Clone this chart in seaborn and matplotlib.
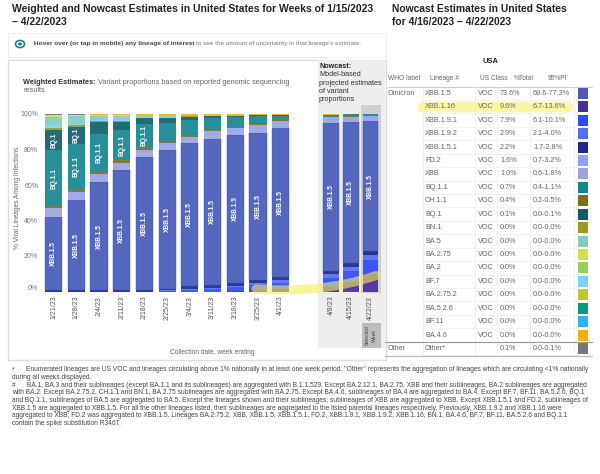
import numpy as np
import pandas as pd
import seaborn as sns
import matplotlib.pyplot as plt
from matplotlib.patches import Rectangle, FancyBboxPatch, Circle
from matplotlib.path import Path
from matplotlib.patches import PathPatch
from matplotlib.transforms import IdentityTransform

weeks = ["1/21/23", "1/28/23", "2/4/23", "2/11/23", "2/18/23", "2/25/23", "3/4/23",
         "3/11/23", "3/18/23", "3/25/23", "4/1/23"]
now_weeks = ["4/8/23", "4/15/23", "4/22/23"]

# percent per lineage, stacked from the bottom; last 3 values are the nowcast weeks
xbb116 = [0, 0, 0, 0, 0, 0, 0, 0, 0.2, 0.6, 1.2, 2.8, 5.6, 9.6]
xbb191 = [0, 0, 0, 0, 0, 0.4, 1.1, 1.3, 2.1, 3.0, 3.6, 5.0, 6.0, 7.9]
xbb192 = [0, 0, 0, 0, 0, 0.2, 0.4, 0.4, 0.9, 1.1, 1.4, 2.0, 2.4, 2.9]
xbb151 = [0.6, 0.6, 0.8, 0.8, 0.9, 1.0, 1.7, 1.9, 1.5, 1.9, 1.9, 1.9, 1.9, 2.2]
xbb15 = [41.2, 50.9, 60.7, 67.6, 75.1, 78.1, 80.6, 82.4, 83.5, 82.9, 84.0, 83.4, 79.6, 73.6]
xbb = [5.0, 3.6, 2.8, 2.8, 2.4, 2.4, 2.2, 2.8, 1.8, 2.0, 2.4, 1.3, 1.2, 1.0]
fd2 = [0.2, 1.1, 1.9, 1.4, 1.6, 1.4, 1.2, 1.8, 2.0, 2.1, 1.7, 1.7, 1.8, 1.6]
ch11 = [1.2, 1.3, 1.1, 1.4, 1.0, 0.9, 0.8, 0.6, 0.7, 0.8, 0.6, 0.4, 0.4, 0.4]
bq11 = [31.3, 25.5, 21.4, 17.0, 13.4, 10.7, 8.6, 6.4, 5.4, 4.5, 2.2, 1.1, 0.9, 0.7]
bq1 = [11.7, 9.9, 7.0, 4.7, 3.2, 2.5, 1.9, 1.3, 0.8, 0.3, 0.2, 0.1, 0.1, 0.1]
bn1 = [1.1, 0.9, 0.4, 0.4, 0.3, 0.3, 0.2, 0.1, 0.1, 0.1, 0.1, 0, 0, 0]
bf7 = [1.4, 0.8, 0.3, 0.3, 0.2, 0.2, 0.1, 0.1, 0.1, 0, 0, 0, 0, 0]
ba5 = [4.6, 4.0, 2.6, 2.6, 1.2, 1.2, 0.6, 0.3, 0.3, 0.2, 0.2, 0, 0, 0]
ba275 = [0.9, 0.6, 0.4, 0.4, 0.2, 0.2, 0.1, 0.1, 0.1, 0.1, 0.1, 0, 0, 0]
ba46 = [0.5, 0.5, 0.4, 0.4, 0.3, 0.3, 0.3, 0.3, 0.3, 0.2, 0.2, 0.2, 0.1, 0.3]
other = [0.5, 0.3, 0.2, 0.2, 0.2, 0.2, 0.2, 0.2, 0.2, 0.2, 0.2, 0.1, 0, 0.1]

stack_names = ["XBB.1.16", "XBB.1.9.1", "XBB.1.9.2", "XBB.1.5.1", "XBB.1.5", "XBB", "FD.2", "CH.1.1",
               "BQ.1.1", "BQ.1", "BN.1", "BF.7", "BA.5", "BA.2.75", "BA.4.6", "Other"]
stack_vals = [xbb116, xbb191, xbb192, xbb151, xbb15, xbb, fd2, ch11,
              bq11, bq1, bn1, bf7, ba5, ba275, ba46, other]

# table
t_lineage = ["XBB.1.5", "XBB.1.16", "XBB.1.9.1", "XBB.1.9.2", "XBB.1.5.1", "FD.2", "XBB", "BQ.1.1", "CH.1.1",
             "BQ.1", "BN.1", "BA.5", "BA.2.75", "BA.2", "BF.7", "BA.2.75.2", "BA.5.2.6", "BF.11", "BA.4.6", "Other*"]
t_class = ["VOC"] * 19 + [""]
t_total = ["73.6%", "9.6%", "7.9%", "2.9%", "2.2%", "1.6%", "1.0%", "0.7%", "0.4%", "0.1%"] + ["0.0%"] * 9 + ["0.1%"]
t_pi = ["69.6-77.3%", "6.7-13.6%", "6.1-10.1%", "2.1-4.0%", "1.7-2.8%", "0.7-3.2%", "0.6-1.8%", "0.4-1.1%",
        "0.2-0.5%", "0.0-0.1%"] + ["0.0-0.0%"] * 9 + ["0.0-0.1%"]
t_colors = ["#4A5CB8", "#4B2C9E", "#2E4BFF", "#5270F5", "#1E2A85", "#8FA2FB", "#9CA5DC", "#138690", "#7B7020",
            "#0F5F69", "#9A9A22", "#80CCC0", "#CFE04E", "#9CCB60", "#7FD0FF", "#BCC832", "#0F9585", "#2AB5F5",
            "#FFAB0F", "#777777"]
lineage_color = dict(zip(t_lineage, t_colors))
lineage_color["Other"] = "#777777"
lineage_color["XBB.1.5"] = "#5566BE"

notes = [
    "during all weeks displayed.",
    "with BA.2. Except BA.2.75.2, CH.1.1 and BN.1, BA.2.75 sublineages are aggregated with BA.2.75. Except BA.4.6, sublineages of BA.4 are aggregated to BA.4. Except BF.7, BF.11, BA.5.2.6, BQ.1",
    "and BQ.1.1, sublineages of BA.5 are aggregated to BA.5. Except the lineages shown and their sublineages, sublineages of XBB are aggregated to XBB. Except XBB.1.5.1 and FD.2, sublineages of",
    "XBB.1.5 are aggregated to XBB.1.5. For all the other lineages listed, their sublineages are aggregated to the listed parental lineages respectively. Previously, XBB.1.9.2 and XBB.1.16 were",
    "aggregated to XBB; FD.2 was aggregated to XBB.1.5. Lineages BA.2.75.2, XBB, XBB.1.5, XBB.1.5.1, FD.2, XBB.1.9.1, XBB.1.9.2, XBB.1.16, BN.1, BA.4.6, BF.7, BF.11, BA.5.2.6 and BQ.1.1",
    "contain the spike substitution R346T.",
]

sns.set_theme(style="white")
plt.rcParams["font.family"] = ["Liberation Sans", "DejaVu Sans"]

W, H = 600, 474
fig = plt.figure(figsize=(W / 100, H / 100), dpi=100)


def fx(x):
    return x / W


def fy(y):
    return 1 - y / H


def txt(x, y, s, size=5.2, color="#666666", weight="normal", ha="left", va="center", **kw):
    return fig.text(fx(x), fy(y), s, fontsize=size, color=color, fontweight=weight, ha=ha, va=va, **kw)


def rect(x0, y0, x1, y1, z=-1, **kw):
    r = Rectangle((fx(x0), fy(y1)), fx(x1 - x0), (y1 - y0) / H, transform=fig.transFigure, zorder=z, **kw)
    fig.add_artist(r)
    return r


def hline(x0, x1, y, color="#dddddd", lw=0.7, z=-1):
    fig.add_artist(plt.Line2D([fx(x0), fx(x1)], [fy(y), fy(y)], color=color, lw=lw, zorder=z))


def vline(x, y0, y1, color="#eeeeee", lw=0.6, z=-1):
    fig.add_artist(plt.Line2D([fx(x), fx(x)], [fy(y0), fy(y1)], color=color, lw=lw, zorder=z))


def after(first, s, **kw):
    # regular text carrying on right behind a bold lead-in
    fig.canvas.draw()
    box = first.get_window_extent()
    return txt(box.x1 + 2, H - (box.y0 + box.y1) / 2, s, **kw)


# frames behind the chart
rect(8, 33, 386, 57, facecolor="white", edgecolor="#eeeeee", lw=0.7)
rect(8, 60, 386, 360, facecolor="white", edgecolor="#dddddd", lw=1.0)
rect(318, 60, 385, 348, facecolor="#eeeeee", edgecolor="none", z=-0.9)
rect(361, 105, 381, 293, facecolor="#cfcfcf", edgecolor="none", z=-0.8)
rect(361.5, 323, 381, 348, facecolor="#bdbdbd", edgecolor="none", z=-0.8)

# titles
txt(12, 9.5, "Weighted and Nowcast Estimates in United States for Weeks of 1/15/2023", size=7.5,
    color="#222222", weight="bold")
txt(12, 22, "– 4/22/2023", size=7.5, color="#222222", weight="bold")
txt(392, 9.5, "Nowcast Estimates in United States", size=7.4, color="#222222", weight="bold")
txt(392, 22, "for 4/16/2023 – 4/22/2023", size=7.4, color="#222222", weight="bold")

# hover hint with its little icon
fig.add_artist(Circle((fx(20), fy(44)), 4.5 / W, transform=fig.transFigure, fc="white", ec="#1f7f8c", lw=1.2))
fig.add_artist(Circle((fx(20), fy(44)), 2 / W, transform=fig.transFigure, fc="#1f7f8c", ec="none"))
hint = txt(33.5, 44, "Hover over (or tap in mobile) any lineage of interest", size=4.65, color="#444444", weight="bold")
after(hint, "to see the amount of uncertainty in that lineage's estimate.", size=4.55, color="#777777")

lead = txt(23, 82, "Weighted Estimates:", size=5.3, color="#333333", weight="bold")
after(lead, "Variant proportions based on reported genomic sequencing", size=5.3, color="#666666")
txt(23, 90.5, "results", size=5.3)

txt(319, 66, "Nowcast:", size=5.2, color="#222222", weight="bold")
for i, s in enumerate(["Model-based", "projected estimates", "of variant", "proportions"]):
    txt(319, 75 + i * 8.3, s, size=5.2, color="#333333")
txt(371, 335.5, "Selected\nWeek", size=3.6, color="#444444", ha="center", rotation=90, linespacing=1.6)

# stacked bars
ax = fig.add_axes([fx(42.3), fy(291.5), fx(292 - 42.3), (291.5 - 114) / H])
ax_now = fig.add_axes([fx(321.3), fy(291.5), fx(380.3 - 321.3), (291.5 - 114) / H])
label_min = {"XBB.1.5": 0, "BQ.1.1": 13, "BQ.1": 9}

for cur_ax, labels, vals_slice, bw in [(ax, weeks, slice(0, 11), 0.76), (ax_now, now_weeks, slice(11, 14), 0.8)]:
    bottom = np.zeros(len(labels))
    for name, vals in zip(stack_names, stack_vals):
        v = np.array(vals[vals_slice], dtype=float)
        df = pd.DataFrame({"week": labels, "pct": v})
        main = name == "XBB.1.5"
        sns.barplot(data=df, x="week", y="pct", bottom=bottom, color=lineage_color[name], saturation=1,
                    width=bw, alpha=1 if main else 0.92, linewidth=0.3 if main else 0,
                    edgecolor="#3B50C8" if main else "none", ax=cur_ax)
        if name in label_min:
            for i, val in enumerate(v):
                if val >= label_min[name]:
                    cur_ax.text(i, bottom[i] + val / 2, name, rotation=90, color="white", fontsize=4.8,
                                fontweight="bold", ha="center", va="center")
        bottom += v
    cur_ax.set_ylim(0, 100)
    cur_ax.set_xlim(-0.5, len(labels) - 0.5)
    cur_ax.set_xlabel("")
    cur_ax.set_ylabel("")
    cur_ax.patch.set_alpha(0)
    sns.despine(ax=cur_ax, left=True, bottom=True)
    cur_ax.tick_params(axis="x", labelrotation=90, labelsize=5, labelcolor="#555555", length=0, pad=3)

ax.set_yticks([0, 20, 40, 60, 80, 100], ["0%", "20%", "40%", "60%", "80%", "100%"])
ax.tick_params(axis="y", labelsize=5, labelcolor="#777777", length=0, pad=3)
ax.get_yticklabels()[0].set_va("bottom")
ax_now.set_yticks([])
txt(18, 198, "% Viral Lineages Among Infections", size=4.8, color="#666666", ha="center", rotation=90)
txt(212, 353, "Collection date, week ending", size=4.8, color="#666666", ha="center")

# yellow highlight sweeping from the chart towards the table
sweep = Path([(fx(256), fy(289)), (fx(300), fy(292)), (fx(340), fy(288)), (fx(376), fy(275.5))],
             [Path.MOVETO, Path.CURVE4, Path.CURVE4, Path.CURVE4])
fig.add_artist(PathPatch(sweep, transform=fig.transFigure, fc="none", ec="#F5EE5A", lw=6.5, alpha=0.6,
                         capstyle="round", zorder=6))

# table
row_y = [93.3 + 13.43 * i for i in range(20)]
fig.add_artist(FancyBboxPatch((418, H - 112.3), 155, 10.6, boxstyle="round,pad=0,rounding_size=5",
                              transform=IdentityTransform(), fc="#FBF59A", ec="none", alpha=0.9, zorder=-0.5))
txt(490, 61.5, "USA", size=5.4, color="#222222", weight="bold", ha="center")
txt(388, 78, "WHO label", size=4.8)
txt(429.5, 78, "Lineage #", size=4.8)
txt(479.5, 78, "US Class", size=4.8)
txt(513.5, 78, "%Total", size=4.8)
txt(548, 78, "95%PI", size=4.8)
txt(388, row_y[0], "Omicron", size=5.2)
txt(388, row_y[19], "Other", size=5.2)
for y, lin, cl, tot, pi, col in zip(row_y, t_lineage, t_class, t_total, t_pi, t_colors):
    txt(425, y, lin, size=5.2)
    txt(478, y, cl, size=5.2)
    txt(500, y, tot, size=5.2)
    txt(533, y, pi, size=5.2)
    rect(577.5, y - 5.5, 588, y + 5.5, facecolor=col, edgecolor="none", z=1)
    hline(421, 574, y + 6.7, color="#eeeeee", lw=0.5)
hline(388, 592, 87, color="#cccccc")
hline(385, 592, 342, color="#999999", lw=0.9, z=1)
hline(385, 592, 356, color="#bbbbbb", lw=0.9, z=1)
for vx in [423, 475, 497, 530, 574]:
    vline(vx, 87, 356)

# footnotes
fs = 4.78
txt(12, 369.7, "*", size=fs, color="#444444")
txt(26, 369.7, 'Enumerated lineages are US VOC and lineages circulating above 1% nationally in at least one week period. '
    '"Other" represents the aggregation of lineages which are circulating <1% nationally', size=fs, color="#444444")
txt(12, 377.4, notes[0], size=fs, color="#444444")
txt(12, 385.1, "#", size=fs, color="#444444")
txt(27, 385.1, "BA.1, BA.3 and their sublineages (except BA.1.1 and its sublineages) are aggregated with B.1.1.529. "
    "Except BA.2.12.1, BA.2.75, XBB and their sublineages, BA.2 sublineages are aggregated", size=fs, color="#444444")
for i, s in enumerate(notes[1:]):
    txt(12, 392.8 + i * 7.7, s, size=fs, color="#444444")

fig.savefig("out.png", dpi=100)
